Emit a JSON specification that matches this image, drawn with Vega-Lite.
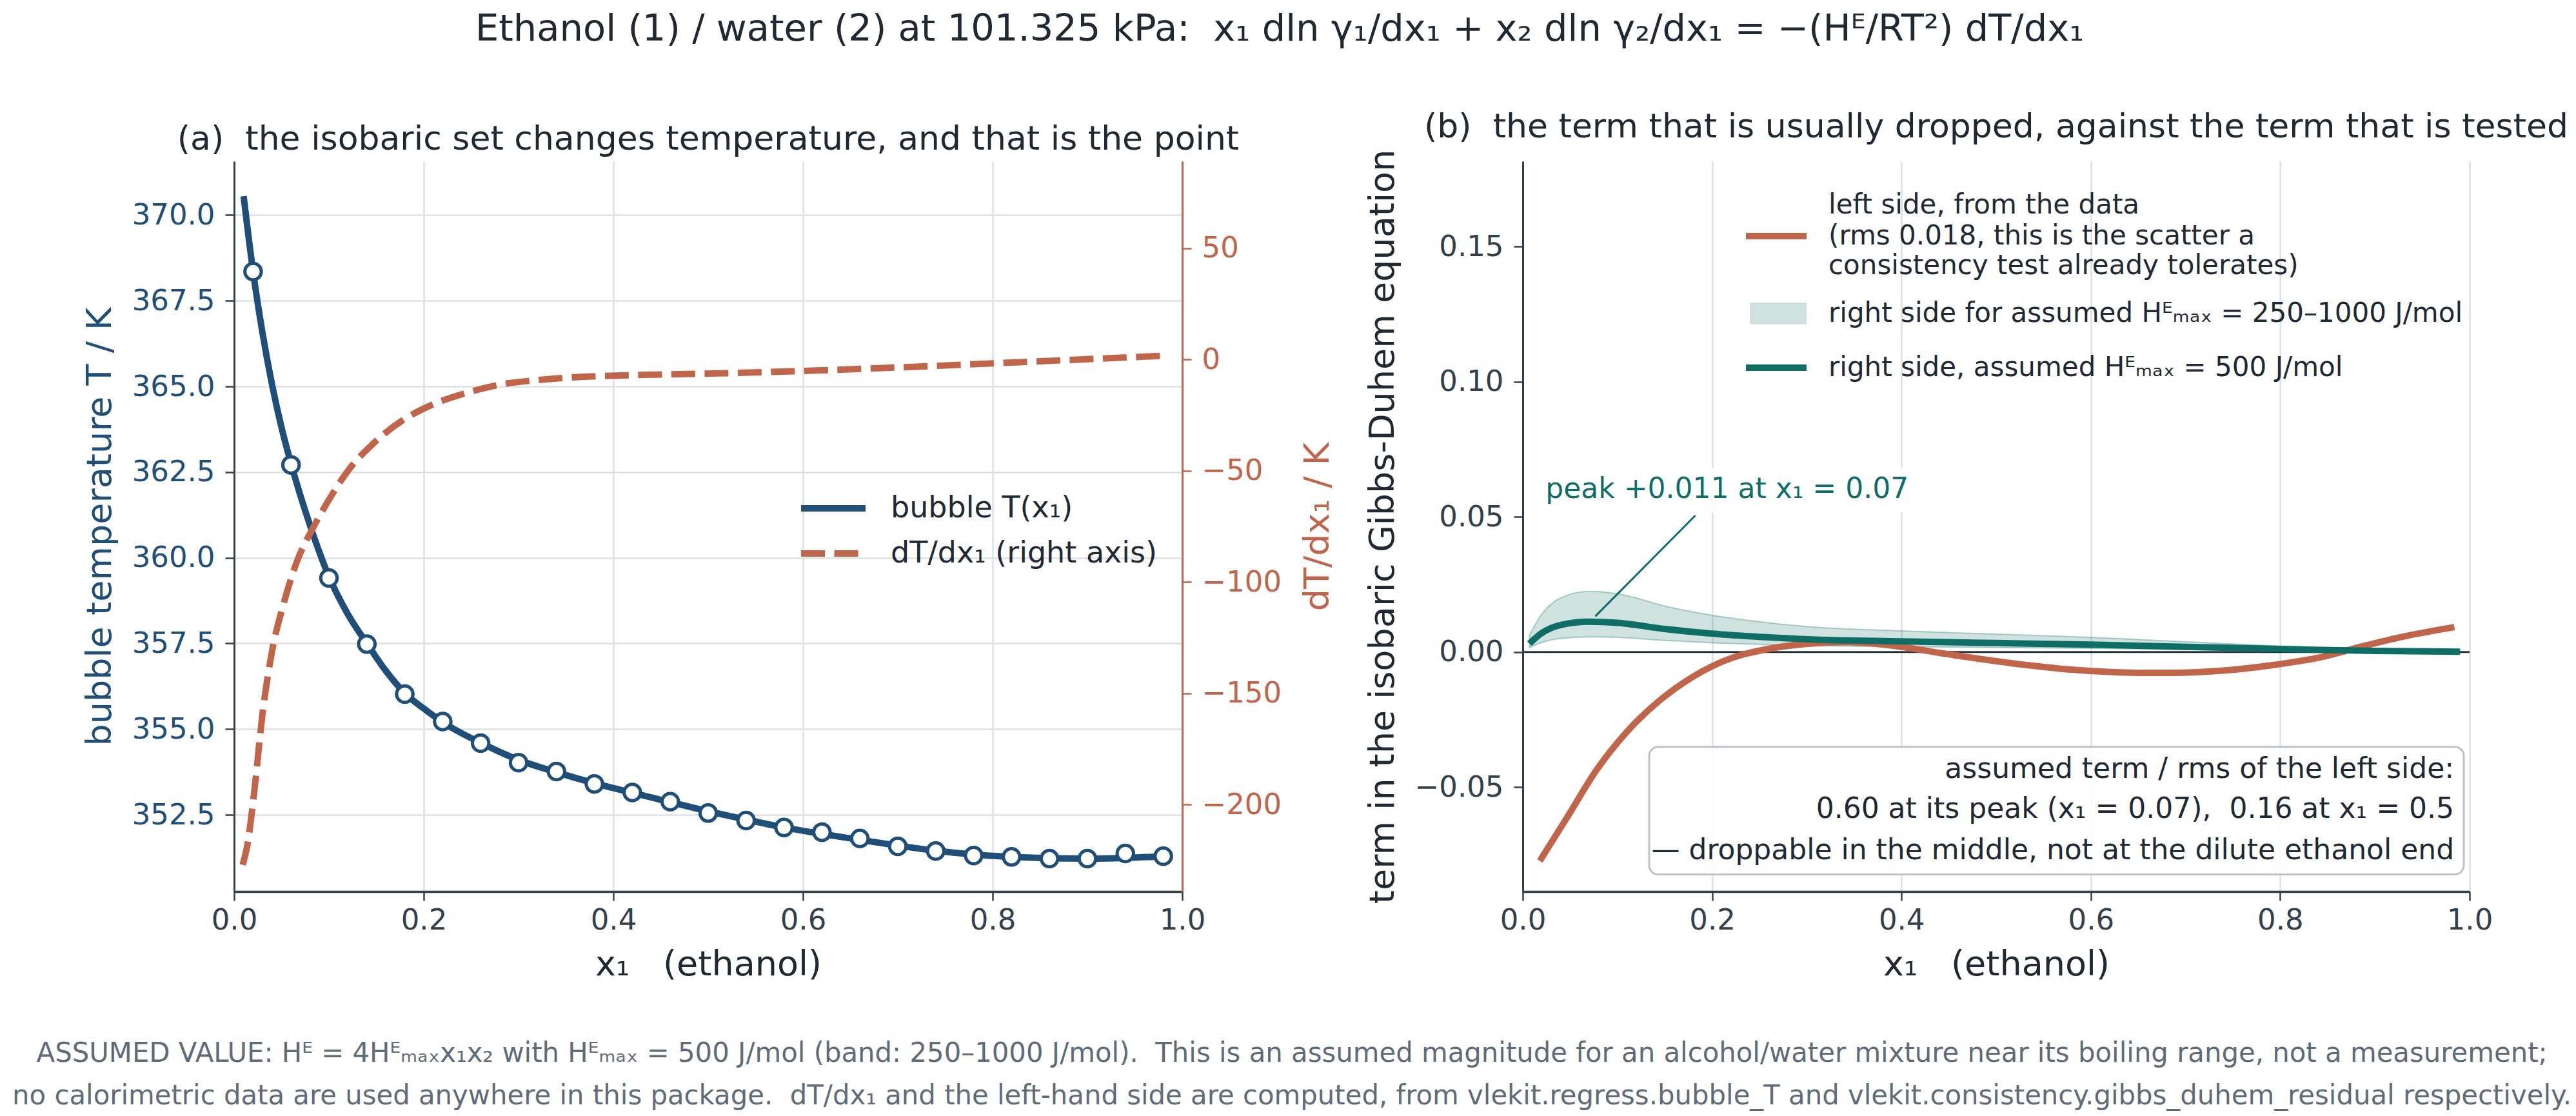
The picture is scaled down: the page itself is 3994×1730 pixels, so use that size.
{
  "$schema": "https://vega.github.io/schema/vega-lite/v6.json",
  "background": "white",
  "padding": {"left": 19, "top": 16, "right": 0, "bottom": 10},
  "config": {
    "font": "DejaVu Sans",
    "view": {"stroke": null},
    "axis": {
      "labelFont": "DejaVu Sans", "labelFontSize": 45, "labelColor": "#333f4b",
      "titleFont": "DejaVu Sans", "titleFontSize": 54, "titleFontWeight": "normal", "titleColor": "#1f2933",
      "domainColor": "#333f4b", "domainWidth": 3.5,
      "tickColor": "#333f4b", "tickWidth": 2.5, "tickSize": 14,
      "gridColor": "#dde1e5", "gridWidth": 2.5,
      "labelFlush": false, "labelOverlap": false
    },
    "legend": {
      "orient": "none", "padding": 0, "offset": 0,
      "labelFont": "DejaVu Sans", "labelColor": "#1f2933", "labelLimit": 3000,
      "symbolType": "stroke", "symbolStrokeWidth": 10
    },
    "title": {"font": "DejaVu Sans", "fontWeight": "normal", "color": "#1f2933"}
  },
  "title": {
    "text": "Ethanol (1) / water (2) at 101.325 kPa:\u00a0 x₁ dln γ₁/dx₁ + x₂ dln γ₂/dx₁ = −(Hᴱ/RT²) dT/dx₁",
    "fontSize": 57.5, "anchor": "middle", "offset": 96, "dx": -19
  },
  "datasets": {
    "bubble_curve": [
      {"x": 0.01, "T": 370.55}, {"x": 0.02, "T": 368.35}, {"x": 0.03, "T": 366.55},
      {"x": 0.04, "T": 365.05}, {"x": 0.05, "T": 363.8}, {"x": 0.06, "T": 362.75},
      {"x": 0.08, "T": 360.95}, {"x": 0.10, "T": 359.45}, {"x": 0.12, "T": 358.35},
      {"x": 0.14, "T": 357.5}, {"x": 0.16, "T": 356.7}, {"x": 0.18, "T": 356.05},
      {"x": 0.20, "T": 355.6}, {"x": 0.22, "T": 355.2}, {"x": 0.26, "T": 354.6},
      {"x": 0.30, "T": 354.1}, {"x": 0.34, "T": 353.74}, {"x": 0.38, "T": 353.42},
      {"x": 0.42, "T": 353.14}, {"x": 0.46, "T": 352.87}, {"x": 0.50, "T": 352.6},
      {"x": 0.54, "T": 352.36}, {"x": 0.58, "T": 352.13}, {"x": 0.62, "T": 351.94},
      {"x": 0.66, "T": 351.77}, {"x": 0.70, "T": 351.6}, {"x": 0.74, "T": 351.45},
      {"x": 0.78, "T": 351.34}, {"x": 0.82, "T": 351.27}, {"x": 0.86, "T": 351.23},
      {"x": 0.90, "T": 351.22}, {"x": 0.94, "T": 351.24}, {"x": 0.98, "T": 351.29},
      {"x": 0.99, "T": 351.31}
    ],
    "bubble_points": [
      {"x": 0.02, "T": 368.35}, {"x": 0.06, "T": 362.71}, {"x": 0.10, "T": 359.41},
      {"x": 0.14, "T": 357.48}, {"x": 0.18, "T": 356.02}, {"x": 0.22, "T": 355.22},
      {"x": 0.26, "T": 354.59}, {"x": 0.30, "T": 354.02}, {"x": 0.34, "T": 353.76},
      {"x": 0.38, "T": 353.40}, {"x": 0.42, "T": 353.15}, {"x": 0.46, "T": 352.88},
      {"x": 0.50, "T": 352.55}, {"x": 0.54, "T": 352.33}, {"x": 0.58, "T": 352.13},
      {"x": 0.62, "T": 351.99}, {"x": 0.66, "T": 351.81}, {"x": 0.70, "T": 351.58},
      {"x": 0.74, "T": 351.44}, {"x": 0.78, "T": 351.31}, {"x": 0.82, "T": 351.27},
      {"x": 0.86, "T": 351.22}, {"x": 0.90, "T": 351.22}, {"x": 0.94, "T": 351.37},
      {"x": 0.98, "T": 351.29}
    ],
    "slope": [
      {"x": 0.009, "dTdx": -227}, {"x": 0.014, "dTdx": -218}, {"x": 0.021, "dTdx": -195},
      {"x": 0.030, "dTdx": -159}, {"x": 0.040, "dTdx": -131}, {"x": 0.052, "dTdx": -110},
      {"x": 0.066, "dTdx": -91}, {"x": 0.084, "dTdx": -75}, {"x": 0.100, "dTdx": -63},
      {"x": 0.120, "dTdx": -50}, {"x": 0.146, "dTdx": -38}, {"x": 0.177, "dTdx": -27.5},
      {"x": 0.205, "dTdx": -21}, {"x": 0.240, "dTdx": -15.6}, {"x": 0.280, "dTdx": -11.3},
      {"x": 0.320, "dTdx": -9.2}, {"x": 0.370, "dTdx": -7.7}, {"x": 0.440, "dTdx": -6.8},
      {"x": 0.510, "dTdx": -6.2}, {"x": 0.600, "dTdx": -5.1}, {"x": 0.720, "dTdx": -3.2},
      {"x": 0.800, "dTdx": -1.7}, {"x": 0.890, "dTdx": 0.0}, {"x": 0.980, "dTdx": 1.7}
    ],
    "lhs": [
      {"x": 0.018, "lhs": -0.0773}, {"x": 0.047, "lhs": -0.0611}, {"x": 0.078, "lhs": -0.0436},
      {"x": 0.110, "lhs": -0.0295}, {"x": 0.144, "lhs": -0.0181}, {"x": 0.179, "lhs": -0.0093},
      {"x": 0.221, "lhs": -0.0022}, {"x": 0.262, "lhs": 0.0013}, {"x": 0.304, "lhs": 0.0031},
      {"x": 0.342, "lhs": 0.0036}, {"x": 0.387, "lhs": 0.0025}, {"x": 0.443, "lhs": -0.0005},
      {"x": 0.513, "lhs": -0.0040}, {"x": 0.582, "lhs": -0.0066}, {"x": 0.652, "lhs": -0.0077},
      {"x": 0.686, "lhs": -0.0077}, {"x": 0.735, "lhs": -0.0070}, {"x": 0.791, "lhs": -0.0049},
      {"x": 0.846, "lhs": -0.0017}, {"x": 0.888, "lhs": 0.0022}, {"x": 0.930, "lhs": 0.0057},
      {"x": 0.984, "lhs": 0.0092}
    ],
    "rhs": [
      {"x": 0.007, "rhs": 0.0031, "lo": 0.0016, "hi": 0.0062},
      {"x": 0.02, "rhs": 0.0070, "lo": 0.0035, "hi": 0.0140},
      {"x": 0.04, "rhs": 0.0100, "lo": 0.0050, "hi": 0.0200},
      {"x": 0.07, "rhs": 0.0112, "lo": 0.0056, "hi": 0.0224},
      {"x": 0.10, "rhs": 0.0108, "lo": 0.0054, "hi": 0.0216},
      {"x": 0.15, "rhs": 0.0085, "lo": 0.00425, "hi": 0.0170},
      {"x": 0.20, "rhs": 0.0068, "lo": 0.0034, "hi": 0.0136},
      {"x": 0.25, "rhs": 0.0056, "lo": 0.0028, "hi": 0.0112},
      {"x": 0.30, "rhs": 0.0047, "lo": 0.00235, "hi": 0.0094},
      {"x": 0.40, "rhs": 0.0039, "lo": 0.00195, "hi": 0.0078},
      {"x": 0.50, "rhs": 0.0033, "lo": 0.00165, "hi": 0.0066},
      {"x": 0.60, "rhs": 0.0027, "lo": 0.00135, "hi": 0.0054},
      {"x": 0.70, "rhs": 0.0019, "lo": 0.00095, "hi": 0.0038},
      {"x": 0.80, "rhs": 0.0011, "lo": 0.00055, "hi": 0.0022},
      {"x": 0.90, "rhs": 0.0004, "lo": 0.0002, "hi": 0.0008},
      {"x": 0.99, "rhs": 0.0001, "lo": 0.00005, "hi": 0.0002}
    ],
    "anchor": [{}]
  },
  "vconcat": [
    {
      "title": {
        "text": [
          "ASSUMED VALUE: Hᴱ = 4Hᴱₘₐₓx₁x₂ with Hᴱₘₐₓ = 500 J/mol (band: 250–1000 J/mol).\u00a0 This is an assumed magnitude for an alcohol/water mixture near its boiling range, not a measurement;",
          "no calorimetric data are used anywhere in this package.\u00a0 dT/dx₁ and the left-hand side are computed, from vlekit.regress.bubble_T and vlekit.consistency.gibbs_duhem_residual respectively."
        ],
        "orient": "bottom", "anchor": "middle", "fontSize": 41.8, "color": "#5f6b77",
        "lineHeight": 66, "offset": 91, "dx": -52
      },
      "spacing": 528,
      "bounds": "flush",
      "resolve": {"scale": {"color": "independent", "stroke": "independent", "fill": "independent", "opacity": "independent", "strokeWidth": "independent"}},
      "hconcat": [
        {
          "title": {"text": "(a)\u00a0 the isobaric set changes temperature, and that is the point", "fontSize": 52, "frame": "group", "anchor": "middle", "offset": 7},
          "width": 1470,
          "height": 1132,
          "layer": [
            {
              "layer": [
                {
                  "data": {"name": "bubble_curve"},
                  "mark": {"type": "line", "strokeWidth": 10, "interpolate": "monotone"},
                  "encoding": {
                    "color": {
                      "datum": "bubble T(x₁)",
                      "scale": {"range": ["#1f4e79"]},
                      "legend": {"legendX": 874, "legendY": 483, "labelFontSize": 46, "labelOffset": 34, "symbolSize": 10000}
                    }
                  }
                },
                {
                  "data": {"name": "bubble_points"},
                  "mark": {"type": "point", "filled": true, "fill": "white", "stroke": "#1f4e79", "strokeWidth": 5, "size": 650, "opacity": 1}
                }
              ],
              "encoding": {
                "x": {
                  "field": "x", "type": "quantitative",
                  "scale": {"domain": [0, 1], "nice": false, "zero": false},
                  "axis": {"values": [0, 0.2, 0.4, 0.6, 0.8, 1.0], "format": ".1f", "title": "x₁\u00a0\u00a0\u00a0(ethanol)", "labelPadding": 8, "titlePadding": 19}
                },
                "y": {
                  "field": "T", "type": "quantitative",
                  "scale": {"domain": [350.26, 371.57], "nice": false, "zero": false},
                  "axis": {
                    "orient": "left", "title": "bubble temperature T / K",
                    "values": [352.5, 355, 357.5, 360, 362.5, 365, 367.5, 370], "format": ".1f",
                    "labelColor": "#1f4e79", "titleColor": "#1f4e79", "domainWidth": 3,
                    "labelPadding": 16, "titlePadding": 22
                  }
                }
              }
            },
            {
              "data": {"name": "slope"},
              "mark": {"type": "line", "strokeWidth": 10, "strokeDash": [37, 14.5], "interpolate": "monotone"},
              "encoding": {
                "x": {"field": "x", "type": "quantitative", "scale": {"domain": [0, 1], "nice": false, "zero": false}},
                "y": {
                  "field": "dTdx", "type": "quantitative",
                  "scale": {"domain": [-239, 89.1], "nice": false, "zero": false},
                  "axis": {
                    "orient": "right", "title": "dT/dx₁ / K", "grid": false, "titleAngle": 270,
                    "values": [-200, -150, -100, -50, 0, 50], "format": "d",
                    "labelColor": "#c0654a", "titleColor": "#c0654a", "domainColor": "#c0654a", "tickColor": "#c0654a",
                    "domainWidth": 3, "labelPadding": 16, "titlePadding": 84
                  }
                },
                "stroke": {
                  "datum": "dT/dx₁ (right axis)",
                  "scale": {"range": ["#c0654a"]},
                  "legend": {"legendX": 874, "legendY": 553, "labelFontSize": 46, "labelOffset": 34, "symbolSize": 10000, "symbolDash": [37, 14.5]}
                }
              }
            }
          ],
          "resolve": {"scale": {"y": "independent"}}
        },
        {
          "title": {"text": "(b)\u00a0 the term that is usually dropped, against the term that is tested", "fontSize": 52, "frame": "group", "anchor": "middle", "offset": 7},
          "width": 1468,
          "height": 1132,
          "layer": [
            {
              "data": {"name": "anchor"},
              "mark": {"type": "rule", "color": "#2d3741", "strokeWidth": 3},
              "encoding": {
                "y": {
                  "datum": 0, "type": "quantitative",
                  "scale": {"domain": [-0.0886, 0.1815], "nice": false, "zero": false},
                  "axis": {
                    "title": "term in the isobaric Gibbs-Duhem equation",
                    "values": [-0.05, 0, 0.05, 0.1, 0.15], "format": ".2f",
                    "domainWidth": 3, "labelPadding": 16, "titlePadding": 22
                  }
                }
              }
            },
            {
              "data": {"name": "rhs"},
              "mark": {"type": "area", "fillOpacity": 0.2, "stroke": "#0e6e66", "strokeOpacity": 0.3, "strokeWidth": 2, "interpolate": "monotone"},
              "encoding": {
                "x": {
                  "field": "x", "type": "quantitative",
                  "scale": {"domain": [0, 1], "nice": false, "zero": false},
                  "axis": {"values": [0, 0.2, 0.4, 0.6, 0.8, 1.0], "format": ".1f", "title": "x₁\u00a0\u00a0\u00a0(ethanol)", "labelPadding": 8, "titlePadding": 19}
                },
                "y": {"field": "lo", "type": "quantitative", "title": "term in the isobaric Gibbs-Duhem equation"},
                "y2": {"field": "hi"},
                "fill": {
                  "datum": "right side for assumed Hᴱₘₐₓ = 250–1000 J/mol",
                  "scale": {"range": ["#0e6e66"]},
                  "legend": {
                    "legendX": 352, "legendY": 192, "labelFontSize": 42, "labelOffset": 34,
                    "symbolType": "M-1,-0.36L1,-0.36L1,0.36L-1,0.36Z", "symbolSize": 7225,
                    "symbolOpacity": 0.2, "symbolStrokeColor": "#0e6e66", "symbolStrokeWidth": 3
                  }
                }
              }
            },
            {
              "data": {"name": "lhs"},
              "mark": {"type": "line", "interpolate": "monotone"},
              "encoding": {
                "x": {"field": "x", "type": "quantitative", "title": "x₁\u00a0\u00a0\u00a0(ethanol)"},
                "y": {"field": "lhs", "type": "quantitative", "title": "term in the isobaric Gibbs-Duhem equation"},
                "stroke": {
                  "datum": "(rms 0.018, this is the scatter a",
                  "scale": {"range": ["#c0654a"]},
                  "legend": {"legendX": 341, "legendY": 64, "labelFontSize": 42, "labelOffset": 29, "symbolSize": 8836}
                },
                "opacity": {
                  "datum": "left side, from the data",
                  "scale": {"type": "ordinal", "range": [1]},
                  "legend": {"legendX": 341, "legendY": 21, "labelFontSize": 42, "labelOffset": 39, "symbolSize": 8836, "symbolStrokeColor": "white", "symbolFillColor": "white", "symbolStrokeWidth": 0}
                },
                "strokeWidth": {
                  "datum": "consistency test already tolerates)",
                  "scale": {"type": "ordinal", "range": [10]},
                  "legend": {"legendX": 341, "legendY": 110, "labelFontSize": 42, "labelOffset": 29, "symbolSize": 8836, "symbolStrokeColor": "white", "symbolFillColor": "white", "symbolOpacity": 0}
                }
              }
            },
            {
              "data": {"name": "rhs"},
              "mark": {"type": "line", "strokeWidth": 10, "interpolate": "monotone"},
              "encoding": {
                "x": {"field": "x", "type": "quantitative", "title": "x₁\u00a0\u00a0\u00a0(ethanol)"},
                "y": {"field": "rhs", "type": "quantitative", "title": "term in the isobaric Gibbs-Duhem equation"},
                "color": {
                  "datum": "right side, assumed Hᴱₘₐₓ = 500 J/mol",
                  "scale": {"range": ["#0e6e66"]},
                  "legend": {"legendX": 341, "legendY": 268, "labelFontSize": 42, "labelOffset": 29, "symbolSize": 8836}
                }
              }
            },
            {
              "data": {"name": "anchor"},
              "mark": {"type": "rect", "fill": "white", "opacity": 0.9},
              "encoding": {
                "x": {"datum": 0.015, "type": "quantitative"}, "x2": {"datum": 0.405},
                "y": {"datum": 0.0515, "type": "quantitative"}, "y2": {"datum": 0.068}
              }
            },
            {
              "data": {"name": "anchor"},
              "mark": {"type": "rule", "color": "#0e6e66", "strokeWidth": 3},
              "encoding": {
                "x": {"datum": 0.1823, "type": "quantitative"}, "y": {"datum": 0.0505, "type": "quantitative"},
                "x2": {"datum": 0.0766}, "y2": {"datum": 0.0132}
              }
            },
            {
              "data": {"name": "anchor"},
              "mark": {"type": "text", "text": "peak +0.011 at x₁ = 0.07", "align": "left", "baseline": "middle", "fontSize": 44, "color": "#0e6e66"},
              "encoding": {"x": {"datum": 0.024, "type": "quantitative"}, "y": {"datum": 0.0600, "type": "quantitative"}}
            },
            {
              "data": {"name": "anchor"},
              "mark": {"type": "rect", "fill": "white", "fillOpacity": 0.85, "stroke": "#bcc3ca", "strokeWidth": 3, "cornerRadius": 14},
              "encoding": {
                "x": {"datum": 0.1335, "type": "quantitative"}, "x2": {"datum": 0.9939},
                "y": {"datum": -0.0351, "type": "quantitative"}, "y2": {"datum": -0.0823}
              }
            },
            {
              "data": {"name": "anchor"},
              "mark": {"type": "text", "text": "assumed term / rms of the left side:", "align": "right", "baseline": "middle", "fontSize": 44, "color": "#1f2933"},
              "encoding": {"x": {"datum": 0.9837, "type": "quantitative"}, "y": {"datum": -0.0436, "type": "quantitative"}}
            },
            {
              "data": {"name": "anchor"},
              "mark": {"type": "text", "text": "0.60 at its peak (x₁ = 0.07),\u00a0 0.16 at x₁ = 0.5", "align": "right", "baseline": "middle", "fontSize": 44, "color": "#1f2933"},
              "encoding": {"x": {"datum": 0.9837, "type": "quantitative"}, "y": {"datum": -0.0584, "type": "quantitative"}}
            },
            {
              "data": {"name": "anchor"},
              "mark": {"type": "text", "text": "— droppable in the middle, not at the dilute ethanol end", "align": "right", "baseline": "middle", "fontSize": 44, "color": "#1f2933"},
              "encoding": {"x": {"datum": 0.9837, "type": "quantitative"}, "y": {"datum": -0.0735, "type": "quantitative"}}
            }
          ]
        }
      ]
    }
  ]
}
